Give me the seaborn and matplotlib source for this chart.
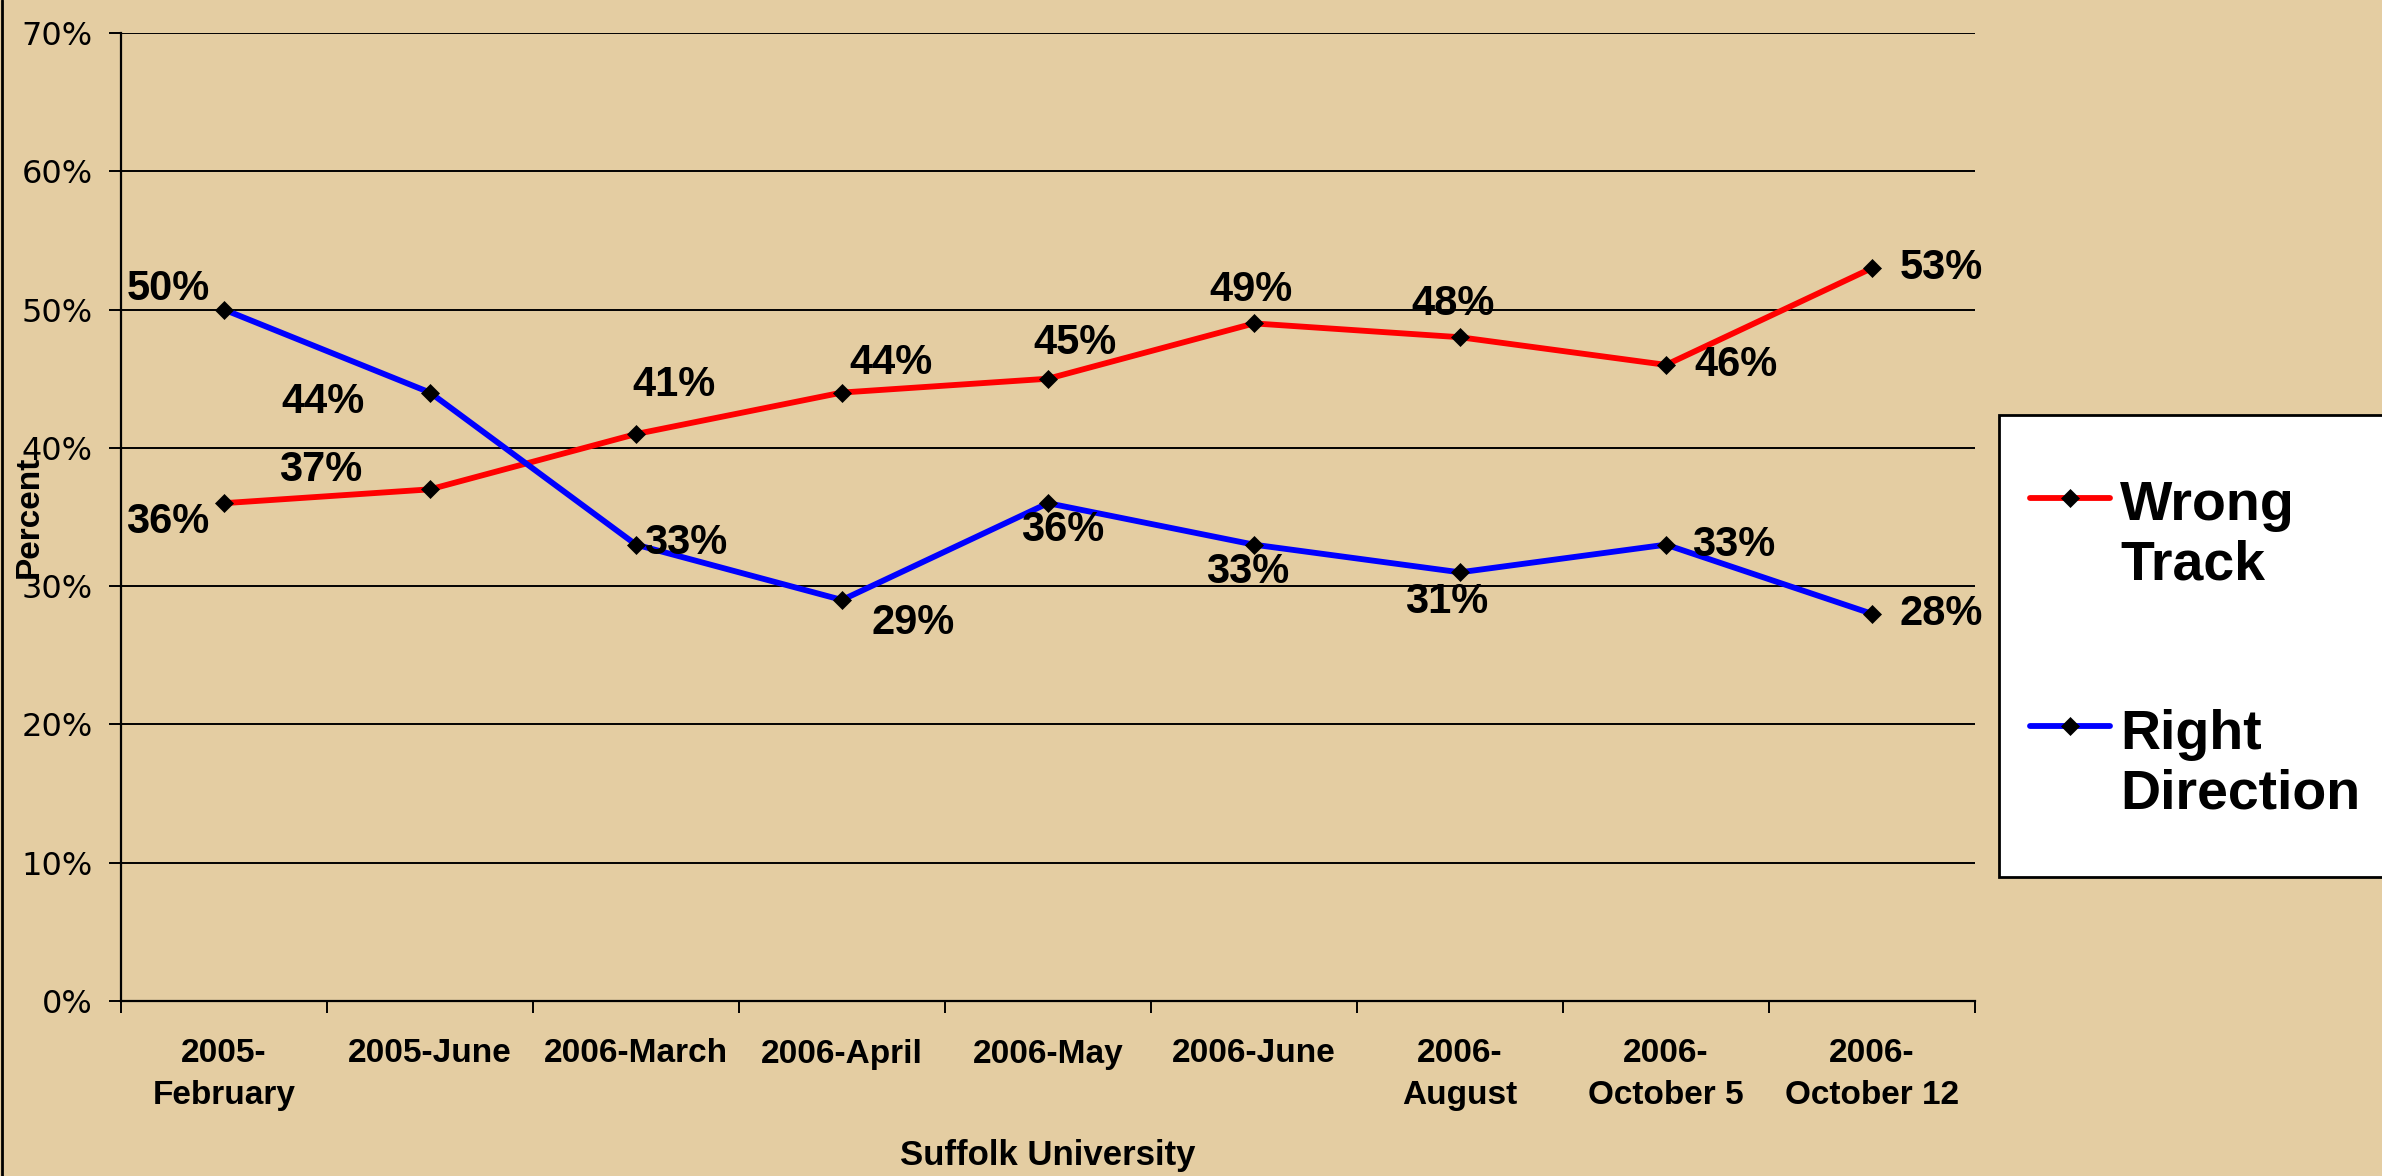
import matplotlib
matplotlib.use("Agg")
import matplotlib.pyplot as plt
from matplotlib.lines import Line2D
from matplotlib.patches import Rectangle
from matplotlib.legend_handler import HandlerLine2D
import numpy as np
import pandas as pd
import seaborn as sns

# poll dates (x categories) and the two series, in percent
polls = ["2005-\nFebruary", "2005-June", "2006-March", "2006-April", "2006-May",
         "2006-June", "2006-\nAugust", "2006-\nOctober 5", "2006-\nOctober 12"]
wrong_track = [36, 37, 41, 44, 45, 49, 48, 46, 53]
right_direction = [50, 44, 33, 29, 36, 33, 31, 33, 28]
series_names = ["Wrong\nTrack", "Right\nDirection"]
y_ticks = [0, 10, 20, 30, 40, 50, 60, 70]

# where each value label sits relative to its point (pixels: right, down)
wrong_offsets = [(-56, 19), (-109, -19), (38, -49), (49, -30), (27, -36),
                 (-3, -33), (-7, -33), (70, 0), (69, 0)]
right_offsets = [(-56, -21), (-107, 9), (50, -2), (71, 23), (15, 27),
                 (-6, 27), (-13, 30), (68, 0), (69, 0)]

df = pd.DataFrame({
    "idx": list(range(len(polls))) * 2,
    "pct": wrong_track + right_direction,
    "series": [series_names[0]] * len(polls) + [series_names[1]] * len(polls),
})

sns.set_style("white")
plt.rcParams["font.family"] = ["Liberation Sans", "DejaVu Sans"]
plt.rcParams.update({"text.color": "black", "axes.labelcolor": "black",
                     "xtick.color": "black", "ytick.color": "black"})

LEG_FS = 40


class FirstLineHandler(HandlerLine2D):
    # put the legend sample next to the first line of a two-line label
    def create_artists(self, legend, orig_handle, xdescent, ydescent,
                       width, height, fontsize, trans):
        arts = super().create_artists(legend, orig_handle, xdescent, ydescent,
                                      width, height, fontsize, trans)
        for a in arts:
            a.set_ydata(np.asarray(a.get_ydata()) + 0.7 * fontsize)
        return arts


W, H = 2382, 1176
bg = "#E4CDA2"
fig = plt.figure(figsize=(W / 100, H / 100), dpi=100, facecolor=bg)
left, right, top, bottom = 121, 1975, 33, 1001
ax = fig.add_axes([left / W, 1 - bottom / H, (right - left) / W, (bottom - top) / H])
ax.set_facecolor(bg)

sns.lineplot(data=df, x="idx", y="pct", hue="series", hue_order=series_names,
             palette={series_names[0]: "#FF0000", series_names[1]: "#0000FF"},
             marker="D", markersize=9.5, markerfacecolor="black",
             markeredgecolor="black", markeredgewidth=0.5, linewidth=4.2,
             errorbar=None, legend=False, ax=ax)

ax.set_xlim(-0.5, len(polls) - 0.5)
ax.set_ylim(0, 70)

# y axis
ax.set_yticks(y_ticks)
ax.set_yticklabels([f"{t}%" for t in y_ticks], family="DejaVu Sans", fontsize=23)
ax.tick_params(axis="y", length=8.6, width=1.4, pad=12, direction="out", left=True)
ax.yaxis.grid(True, color="black", linewidth=1.4)
ax.xaxis.grid(False)

# x axis: ticks between categories, labels at category centres
ax.set_xticks([i - 0.5 for i in range(len(polls) + 1)])
ax.set_xticklabels([])
ax.set_xticks(range(len(polls)), polls, minor=True)
ax.tick_params(axis="x", which="major", length=8.6, width=1.4,
               direction="out", bottom=True)
ax.tick_params(axis="x", which="minor", length=0, pad=27)
for t in ax.get_xticklabels(minor=True):
    t.set_family("Liberation Sans")
    t.set_fontweight("bold")
    t.set_fontsize(24)
    t.set_linespacing(1.45)

for s in ["top", "right"]:
    ax.spines[s].set_visible(False)
for s in ["left", "bottom"]:
    ax.spines[s].set_color("black")
    ax.spines[s].set_linewidth(1.6)

ax.set_xlabel("Suffolk University", fontweight="bold", fontsize=25)
ax.xaxis.set_label_coords(0.5, -0.143)
ax.set_ylabel("Percent", fontweight="bold", fontsize=24)
ax.yaxis.set_label_coords(-0.041, 0.5)

# value labels
for vals, offs in [(wrong_track, wrong_offsets), (right_direction, right_offsets)]:
    for i, (v, (dx, dy)) in enumerate(zip(vals, offs)):
        ax.annotate(f"{v}%", (i, v), xytext=(dx * 0.72, -dy * 0.72),
                    textcoords="offset points", ha="center", va="center",
                    fontsize=30, fontweight="bold", color="black")

# white legend panel running off the right edge
fig.add_artist(Rectangle((1999 / W, 1 - 877 / H), (W - 1999) / W + 0.01,
                         (877 - 415) / H, transform=fig.transFigure,
                         facecolor="white", edgecolor="black", linewidth=2,
                         zorder=4))
leg = fig.legend(ax.lines[:2], series_names, loc="upper left",
                 bbox_to_anchor=(2030 / W, 1 - 480 / H), borderaxespad=0,
                 frameon=False, prop=dict(weight="bold", size=LEG_FS),
                 handlelength=1.44, handletextpad=0.18, borderpad=0,
                 labelspacing=2.1,
                 handler_map={Line2D: FirstLineHandler()})
leg.set_zorder(5)

fig.add_artist(Line2D([0.001, 0.001], [0, 1], color="black", linewidth=2,
                      transform=fig.transFigure))

fig.savefig("out.png", dpi=100, facecolor=bg)
